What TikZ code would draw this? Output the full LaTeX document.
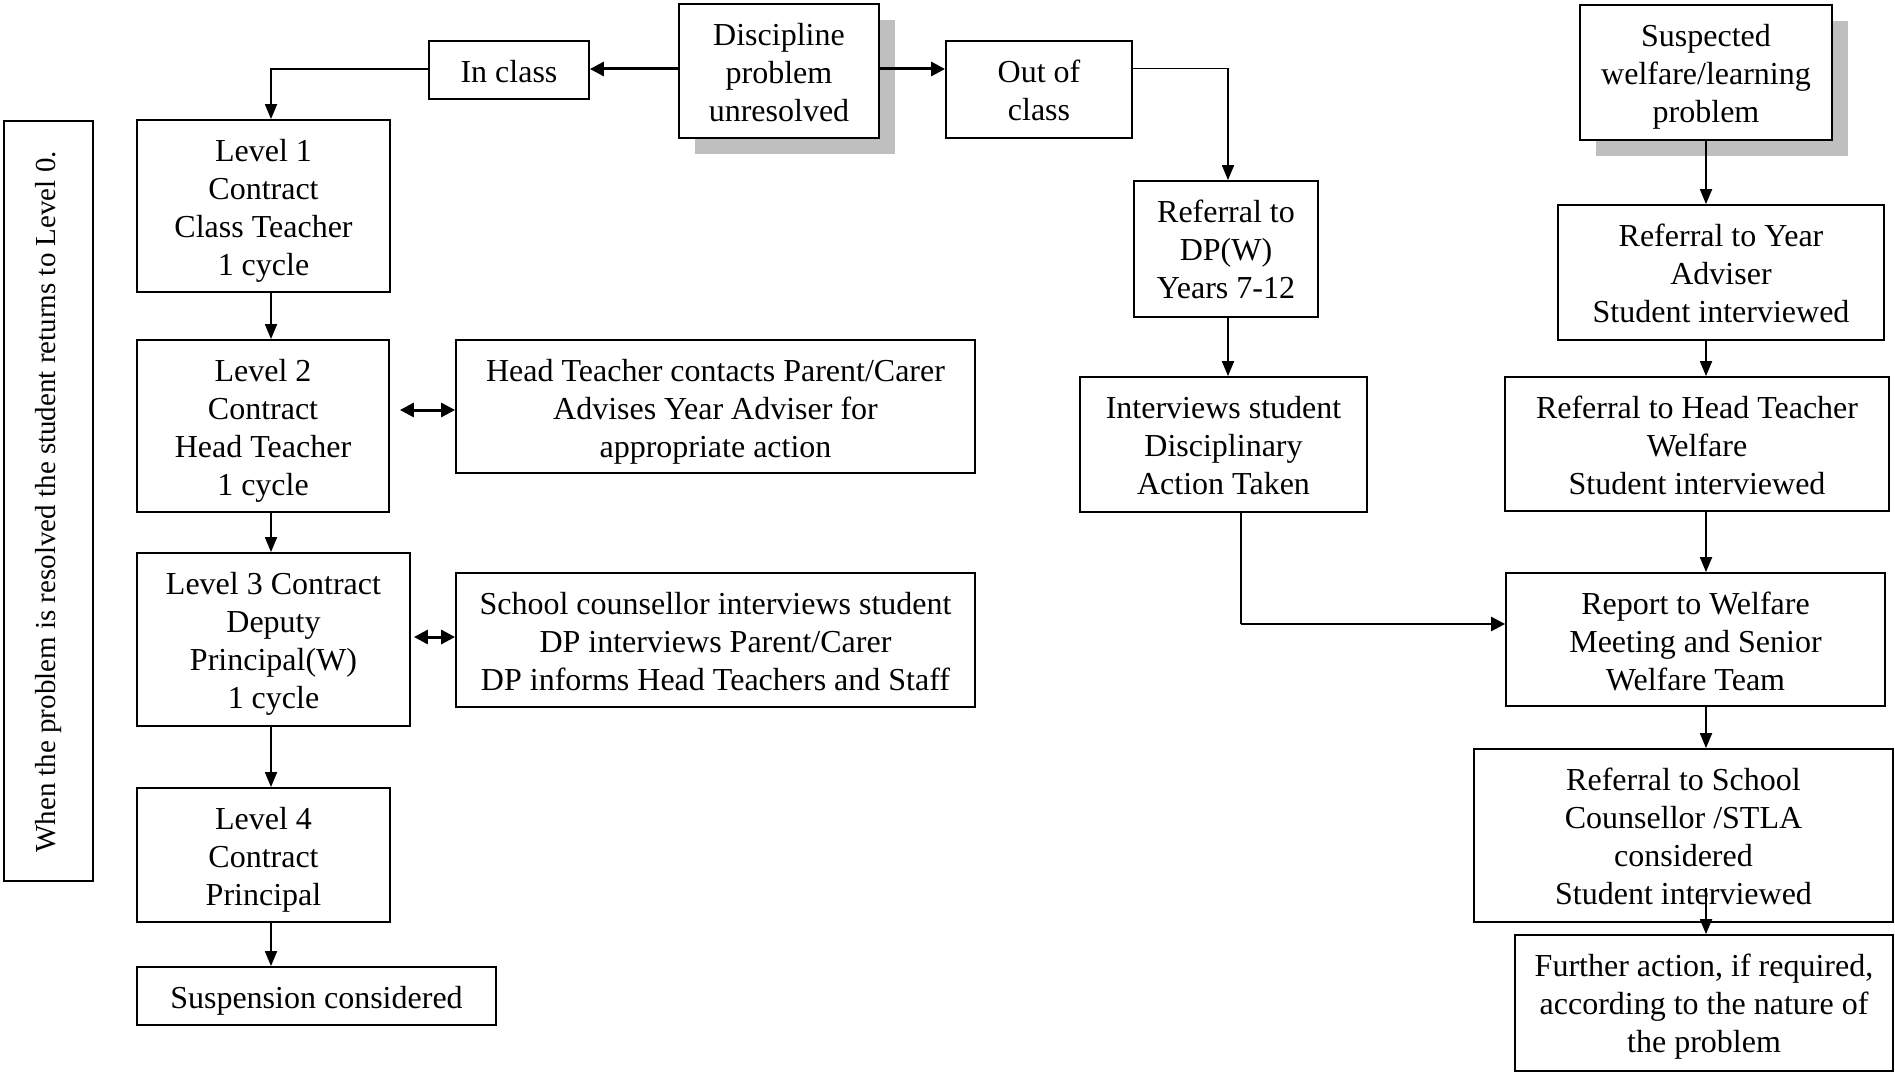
\documentclass[tikz,border=0pt]{standalone}
\usepackage{fontspec}
\setmainfont{Liberation Serif}
\usetikzlibrary{arrows.meta,shadows}
\newcommand{\tp}{\rule{0pt}{42pt}}
\begin{document}
\begin{tikzpicture}[x=1pt,y=-1pt,
  box/.style={draw, line width=1.8pt, fill=white, inner sep=0pt},
  lbl/.style={anchor=north, align=center, inner sep=0pt, label distance=0pt,
    font=\fontsize{32}{38}\selectfont},
  shbox/.style={box, drop shadow={shadow xshift=16pt, shadow yshift=-16pt, fill=black!25, opacity=1}},
  conn/.style={line width=1.8pt, -{Triangle[length=15pt,width=12pt]}},
  heavy/.style={line width=3pt, -{Triangle[length=14pt,width=14pt]}},
  dbl/.style={line width=3pt, {Triangle[length=14pt,width=14pt]}-{Triangle[length=14pt,width=14pt]}}]
\useasboundingbox (0,0) rectangle (1895,1073);

% side note
\node[draw, line width=1.8pt, minimum width=89pt, minimum height=760pt] (side) at (48.5,501) {};
\node[rotate=90, font=\fontsize{29}{34}\selectfont] (sidetxt) at (48.5,502) {When the problem is resolved the student returns to Level 0.};

% top row
\node[shbox, minimum width=200pt, minimum height=134pt, label={[lbl]north:{\tp Discipline\\problem\\unresolved}}] (disc) at (779,71) {};
\node[box, minimum width=160pt, minimum height=58pt, label={[lbl]north:{\tp In class}}] (inclass) at (509,70) {};
\node[box, minimum width=186pt, minimum height=97pt, label={[lbl]north:{\tp Out of\\class}}] (outclass) at (1039,89.5) {};
\node[shbox, minimum width=252pt, minimum height=135pt, label={[lbl]north:{\tp Suspected\\welfare/learning\\problem}}] (susp) at (1706,72.5) {};

% left column
\node[box, minimum width=253pt, minimum height=172pt, label={[lbl]north:{\tp Level 1\\Contract\\Class Teacher\\1 cycle}}] (l1) at (263.5,206) {};
\node[box, minimum width=252pt, minimum height=172pt, label={[lbl]north:{\tp Level 2\\Contract\\Head Teacher\\1 cycle}}] (l2) at (263,426) {};
\node[box, minimum width=273pt, minimum height=173pt, label={[lbl]north:{\tp Level 3 Contract\\Deputy\\Principal(W)\\1 cycle}}] (l3) at (273.5,639.5) {};
\node[box, minimum width=253pt, minimum height=134pt, label={[lbl]north:{\tp Level 4\\Contract\\Principal}}] (l4) at (263.5,855) {};
\node[box, minimum width=359pt, minimum height=58pt, label={[lbl]north:{\tp Suspension considered}}] (sus) at (316.5,996) {};

\node[box, minimum width=519pt, minimum height=133pt, label={[lbl]north:{\tp Head Teacher contacts Parent/Carer\\Advises Year Adviser for\\appropriate action}}] (ht) at (715.5,406.5) {};
\node[box, minimum width=519pt, minimum height=134pt, label={[lbl]north:{\tp School counsellor interviews student\\DP interviews Parent/Carer\\DP informs Head Teachers and Staff}}] (scc) at (715.5,640) {};

% middle column
\node[box, minimum width=184pt, minimum height=136pt, label={[lbl]north:{\tp Referral to\\DP(W)\\Years 7-12}}] (dpw) at (1226,249) {};
\node[box, minimum width=287pt, minimum height=135pt, label={[lbl]north:{\tp Interviews student\\Disciplinary\\Action Taken}}] (intv) at (1223.5,444.5) {};

% right column
\node[box, minimum width=326pt, minimum height=135pt, label={[lbl]north:{\tp Referral to Year\\Adviser\\Student interviewed}}] (ya) at (1721,272.5) {};
\node[box, minimum width=384pt, minimum height=134pt, label={[lbl]north:{\tp Referral to Head Teacher\\Welfare\\Student interviewed}}] (htw) at (1697,444) {};
\node[box, minimum width=379pt, minimum height=133pt, label={[lbl]north:{\tp Report to Welfare\\Meeting and Senior\\Welfare Team}}] (rep) at (1695.5,639.5) {};
\node[box, minimum width=419pt, minimum height=173pt, label={[lbl]north:{\tp Referral to School\\Counsellor /STLA\\considered\\Student interviewed}}] (sc) at (1683.5,835.5) {};
\node[box, minimum width=378pt, minimum height=136pt, label={[lbl]north:{\tp Further action, if required,\\according to the nature of\\the problem}}] (fa) at (1704,1003) {};

% connectors top
\draw[heavy] ([yshift=2pt]disc.west) -- ([yshift=2pt]disc.west -| inclass.east);
\draw[heavy] ([yshift=2pt]disc.east) -- ([yshift=2pt]disc.east -| outclass.west);
\draw[conn] ([yshift=1pt]inclass.west) -| ([xshift=7.5pt]l1.north);
\draw[conn] ([yshift=21pt]outclass.east) -| ([xshift=2pt]dpw.north);

% left column connectors
\draw[conn] ([xshift=7.5pt]l1.south) -- ([xshift=7.5pt]l1.south |- l2.north);
\draw[conn] ([xshift=8pt]l2.south) -- ([xshift=8pt]l2.south |- l3.north);
\draw[conn] ([xshift=-2.5pt]l3.south) -- ([xshift=-2.5pt]l3.south |- l4.north);
\draw[conn] ([xshift=7.5pt]l4.south) -- ([xshift=7.5pt]l4.south |- sus.north);
\draw[dbl] ([shift={(10pt,16pt)}]l2.east) -- ([yshift=16pt]l2.east -| ht.west);
\draw[dbl] ([shift={(3pt,2.5pt)}]l3.east) -- ([yshift=2.5pt]l3.east -| scc.west);

% middle connectors
\draw[conn] ([xshift=2pt]dpw.south) -- ([xshift=2pt]dpw.south |- intv.north);
\coordinate (bend) at ([xshift=17.5pt]intv.south |- rep.west);
\draw[line width=1.8pt] ([xshift=17.5pt]intv.south) -- ([yshift=15.5pt]bend);
\draw[heavy, line width=2.5pt] ([yshift=15.5pt]bend) -- ([yshift=15.5pt]rep.west);

% right column connectors
\draw[conn] (susp.south) -- (susp.south |- ya.north);
\draw[conn] (ya.south -| susp.south) -- (htw.north -| susp.south);
\draw[conn] (htw.south -| susp.south) -- (rep.north -| susp.south);
\draw[conn] (rep.south -| susp.south) -- (sc.north -| susp.south);
\draw[conn] ([yshift=35pt]sc.south -| susp.south) -- (fa.north -| susp.south);
\end{tikzpicture}
\end{document}
